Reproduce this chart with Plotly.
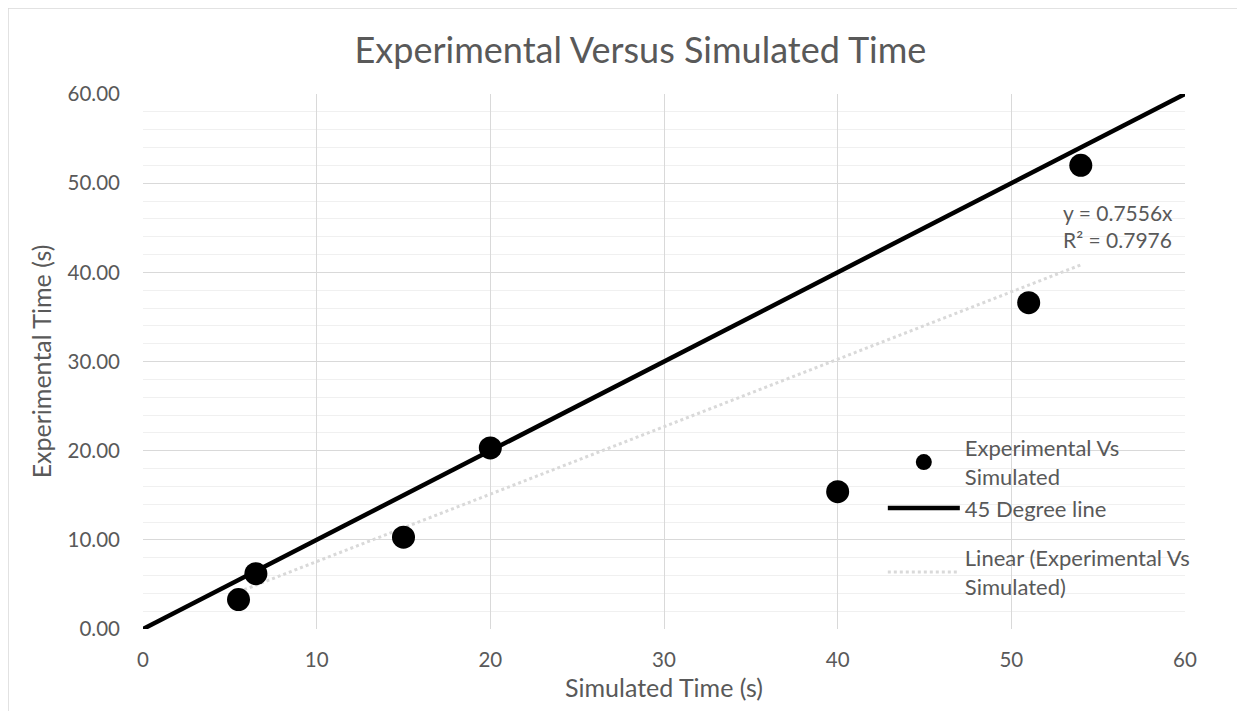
import numpy as np
import plotly.graph_objects as go

# Data
simulated_time = [5.5, 6.5, 15, 20, 40, 51, 54]
experimental_time = [3.3, 6.2, 10.3, 20.3, 15.4, 36.6, 52.0]
line45_x = [0, 60]
line45_y = [0, 60]
y_ticks = [0, 10, 20, 30, 40, 50, 60]
x_ticks = [0, 10, 20, 30, 40, 50, 60]

# Linear trendline through origin (as in the original spreadsheet)
xs = np.array(simulated_time)
ys = np.array(experimental_time)
slope = float((xs * ys).sum() / (xs * xs).sum())
trend_x = [xs.min(), xs.max()]
trend_y = [slope * v for v in trend_x]

FONT = "Lato"
GREY = "#595959"

fig = go.Figure()
fig.add_trace(go.Scatter(
    x=trend_x, y=trend_y, mode="lines",
    line=dict(color="#D9D9D9", width=3, dash="dot"),
    name="Linear (Experimental Vs<br>Simulated)", legend="legend2"))
fig.add_trace(go.Scatter(
    x=line45_x, y=line45_y, mode="lines",
    line=dict(color="black", width=4.5),
    name="45 Degree line", legendrank=2))
fig.add_trace(go.Scatter(
    x=simulated_time, y=experimental_time, mode="markers",
    marker=dict(color="black", size=23),
    name="Experimental Vs<br>Simulated", legendrank=1))

fig.add_annotation(
    x=(1053 - 135) / 1042, xref="paper", y=(621 - 218) / 535, yref="paper",
    text="y = 0.7556x<br>R² = 0.7976", showarrow=False, align="left",
    xanchor="left", yanchor="middle",
    font=dict(family=FONT, size=21, color=GREY))

fig.add_shape(type="rect", xref="paper", yref="paper",
              x0=(0 - 135) / 1042, x1=(1260 - 135) / 1042,
              y0=(621 - 730) / 535, y1=(621 - 0) / 535,
              line=dict(color="#D9D9D9", width=1.5), layer="below")

legend_font = dict(family=FONT, size=22, color=GREY)
fig.update_layout(
    width=1245, height=711,
    margin=dict(l=135, r=68, t=86, b=90),
    paper_bgcolor="white", plot_bgcolor="white",
    title=dict(text="Experimental Versus Simulated Time", x=0.508, xanchor="center",
               y=1 - 42 / 711, yanchor="middle",
               font=dict(family=FONT, size=36, color=GREY)),
    font=dict(family=FONT, color=GREY),
    showlegend=True,
    legend=dict(x=0.710, y=(621 - 419) / 535, xanchor="left", yanchor="top",
                bgcolor="rgba(0,0,0,0)", font=legend_font, itemwidth=72),
    legend2=dict(x=0.710, y=(621 - 529) / 535, xanchor="left", yanchor="top",
                 bgcolor="rgba(0,0,0,0)", font=legend_font, itemwidth=72),
    xaxis=dict(range=[0, 60], tickvals=x_ticks, showgrid=True, gridcolor="#D9D9D9",
               gridwidth=1.3, zeroline=False, showline=False,
               tickfont=dict(family=FONT, size=20.5, color=GREY),
               ticklabelstandoff=16,
               title=dict(text="Simulated Time (s)", font=dict(family=FONT, size=25, color=GREY),
                          standoff=9)),
    yaxis=dict(range=[0, 60], tickvals=y_ticks, tickformat=".2f", showgrid=True,
               gridcolor="#D9D9D9", gridwidth=1.3, zeroline=False, showline=False,
               tickfont=dict(family=FONT, size=20.5, color=GREY),
               ticklabelstandoff=22,
               minor=dict(dtick=2, showgrid=True, gridcolor="#F0F0F0", gridwidth=1),
               title=dict(text="Experimental Time (s)", font=dict(family=FONT, size=25, color=GREY),
                          standoff=8)),
)

fig.write_html("out.html")
